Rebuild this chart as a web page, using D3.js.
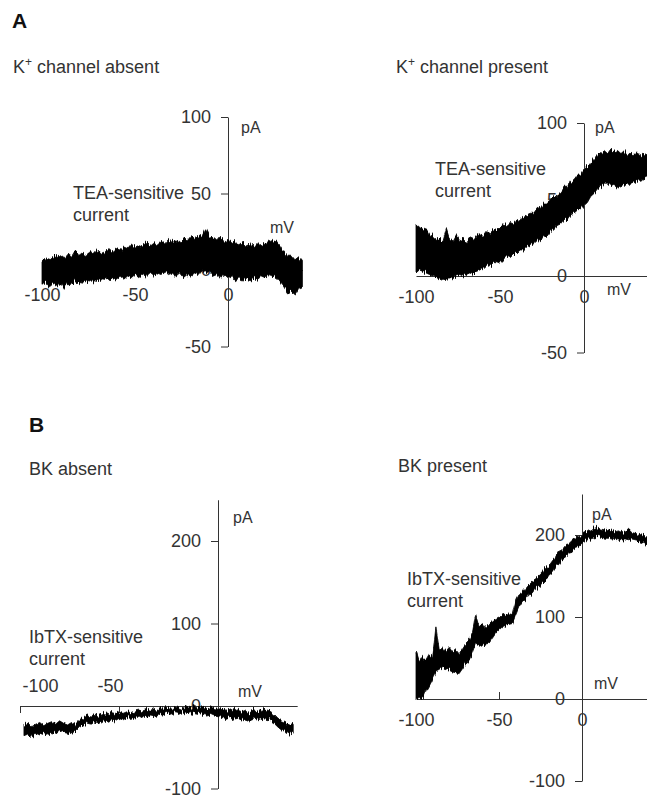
<!DOCTYPE html>
<html>
<head>
<meta charset="utf-8">
<script src="https://cdn.jsdelivr.net/npm/d3@7"></script>
<style>
  body { margin: 0; background: #fff; }
  text { font-family: "Liberation Sans", Arial, sans-serif; }
</style>
</head>
<body>
<div id="chart"></div>
<script>
// voltage samples (mV), shared by all four traces
const mV = [
  -100, -98, -96, -94, -92, -90, -88, -86, -84, -82,
  -80, -78, -76, -74, -72, -70, -68, -66, -64, -62,
  -60, -58, -56, -54, -52, -50, -48, -46, -44, -42,
  -40, -38, -36, -34, -32, -30, -28, -26, -24, -22,
  -20, -18, -16, -14, -12, -10, -8, -6, -4, -2,
  0, 2, 4, 6, 8, 10, 12, 14, 16, 18,
  20, 22, 24, 26, 28, 30, 32, 34, 36, 38,
  40
]

// A, K+ channel absent: upper / lower edge of the noisy TEA-sensitive current (pA)
const kAbsentHigh = [
  6, 8, 7, 9, 8, 10, 8, 11, 9, 13,
  9, 11, 10, 12, 11, 13, 11, 12, 14, 12,
  14, 13, 15, 14, 17, 15, 16, 15, 18, 16,
  18, 17, 19, 17, 20, 18, 19, 18, 21, 19,
  22, 20, 23, 22, 27, 22, 21, 19, 22, 19,
  20, 17, 19, 16, 18, 15, 17, 15, 18, 16,
  17, 19, 20, 19, 16, 12, 9, 9, 6, 8,
  5
]
const kAbsentLow = [
  -10, -8, -11, -9, -10, -8, -12, -8, -10, -7,
  -9, -7, -8, -6, -8, -6, -7, -5, -7, -5,
  -6, -4, -6, -4, -5, -3, -5, -3, -4, -2,
  -4, -2, -3, -1, -3, -2, -4, -2, -5, -3,
  -4, -2, -3, 0, -2, -1, -4, -3, -5, -3,
  -5, -4, -7, -5, -8, -6, -7, -5, -6, -4,
  -5, -3, -4, -5, -8, -11, -15, -14, -16, -12,
  -11
]

// A, K+ channel present
const kPresentHigh = [
  34, 32, 30, 31, 27, 26, 24, 25, 23, 31,
  24, 23, 27, 23, 24, 22, 25, 24, 26, 27,
  26, 29, 28, 30, 31, 31, 34, 33, 35, 34,
  37, 36, 39, 40, 41, 41, 44, 45, 47, 47,
  50, 52, 52, 55, 58, 58, 62, 63, 66, 66,
  70, 71, 74, 77, 79, 80, 82, 80, 83, 81,
  82, 80, 82, 79, 81, 79, 81, 78, 80, 79,
  79
]
const kPresentLow = [
  2, 4, 3, 2, 1, 0, -1, -2, -3, -2,
  -2, -1, 0, 1, 0, 1, 2, 1, 3, 4,
  5, 7, 6, 8, 10, 9, 11, 13, 12, 14,
  15, 17, 17, 19, 20, 21, 23, 23, 26, 26,
  29, 30, 33, 34, 37, 37, 40, 41, 43, 44,
  46, 48, 52, 54, 57, 58, 60, 60, 60, 59,
  58, 59, 60, 60, 60, 61, 62, 62, 64, 65,
  65
]

// B, BK absent: IbTX-sensitive current
const bkAbsentHigh = [
  null, -23, -21, -25, -22, -20, -24, -21, -19, -22,
  -18, -21, -23, -20, -22, -17, -13, -11, -12, -10,
  -11, -9, -10, -8, -9, -7, -9, -7, -8, -6,
  -5, -6, -4, -5, -3, -4, -2, -4, -2, -3,
  -1, -3, 0, -2, 1, -2, -1, -3, -1, -3,
  -4, -3, -5, -4, -2, -5, -7, -5, -8, -6,
  -7, -5, -4, -6, -9, -14, -18, -20, -23, -21,
  null
]
const bkAbsentLow = [
  null, -36, -34, -38, -33, -35, -32, -35, -31, -33,
  -29, -32, -33, -30, -31, -26, -23, -21, -22, -19,
  -21, -18, -19, -17, -18, -15, -17, -14, -15, -13,
  -14, -12, -13, -11, -12, -10, -11, -9, -10, -8,
  -9, -7, -9, -7, -8, -9, -10, -11, -10, -12,
  -13, -14, -15, -13, -16, -15, -17, -16, -18, -16,
  -17, -15, -16, -17, -20, -25, -29, -31, -34, -33,
  null
]

// B, BK present
const bkPresentHigh = [
  58, 45, 52, 48, 55, 50, 88, 60, 62, 58,
  63, 57, 60, 55, 62, 68, 72, 80, 102, 88,
  92, 86, 90, 95, 98, 100, 104, 101, 104, 103,
  120, 128, 130, 134, 139, 143, 145, 150, 154, 159,
  162, 168, 173, 180, 182, 187, 188, 192, 195, 198,
  200, 202, 205, 207, 210, 208, 207, 206, 205, 206,
  204, 205, 203, 202, 207, 203, 202, 201, 200, 199,
  199
]
const bkPresentLow = [
  0, 2, 0, 10, 17, 25, 33, 35, 38, 37,
  35, 33, 32, 31, 37, 44, 47, 57, 68, 66,
  64, 67, 68, 74, 80, 84, 88, 90, 91, 92,
  102, 112, 119, 121, 127, 128, 134, 136, 142, 144,
  151, 154, 161, 164, 171, 173, 179, 180, 185, 186,
  190, 192, 195, 197, 198, 198, 197, 196, 196, 195,
  196, 195, 194, 194, 193, 194, 193, 192, 191, 189,
  190
]

// tick labels
const xTicksFull = [-100, -50, 0]
const xTicksBkAbsent = [-100, -50]
const yTicksK = [-50, 0, 50, 100]
const yTicksBk = [-100, 0, 100, 200]

const width = 647
const height = 799
const fontFamily = '"Liberation Sans", Arial, sans-serif'
const ink = '#333'

const svg = d3.select('#chart').append('svg')
    .attr('width', width)
    .attr('height', height)

// roughen the trace edges so the envelopes read as a noisy recording
const defs = svg.append('defs')
const rough = defs.append('filter').attr('id', 'rough')
    .attr('x', '-5%').attr('y', '-30%').attr('width', '110%').attr('height', '160%')
rough.append('feTurbulence')
    .attr('type', 'fractalNoise').attr('baseFrequency', '0.9 0.04')
    .attr('numOctaves', 2).attr('seed', 3).attr('result', 'noise')
rough.append('feColorMatrix').attr('in', 'noise').attr('type', 'matrix')
    .attr('values', '0 0 0 0 0.5  0 1 0 0 0  0 0 0 0 0  0 0 0 0 1')
    .attr('result', 'shift')
rough.append('feDisplacementMap').attr('in', 'SourceGraphic').attr('in2', 'shift')
    .attr('scale', 9).attr('xChannelSelector', 'R').attr('yChannelSelector', 'G')

function drawPanel(p) {
    const x = d3.scaleLinear().domain([-100, 40]).range([p.left, p.right])
    const y = d3.scaleLinear().domain(p.yDomain).range([p.bottom, p.top])
    const g = svg.append('g')

    // y axis, ticks to the left
    const yAxis = g.append('g')
        .attr('transform', `translate(${x(0)},0)`)
        .call(d3.axisLeft(y).tickValues(p.yTicks).tickFormat(d => String(d))
            .tickSize(7).tickPadding(10).tickSizeOuter(0))
    yAxis.attr('font-size', 18).attr('font-family', fontFamily).attr('color', ink)

    // x axis through 0 pA
    const xAxisGen = (p.xLabelsAbove ? d3.axisTop(x) : d3.axisBottom(x))
        .tickValues(p.xTicks)
        .tickFormat(d => String(d))
        .tickSize(p.xTickSize)
        .tickPadding(p.xPad)
        .tickSizeOuter(0)
    const xAxis = g.append('g')
        .attr('transform', `translate(0,${y(0)})`)
        .call(xAxisGen)
    xAxis.attr('font-size', 18).attr('font-family', fontFamily).attr('color', ink)
    if (p.xLabelShift) {
        xAxis.selectAll('.tick text').attr('dx', (d, i) => p.xLabelShift[i])
    }

    // noisy trace drawn as its envelope
    const rows = mV.map((v, i) => ({ v, hi: p.high[i], lo: p.low[i] }))
    const area = d3.area()
        .defined(d => d.hi != null && d.lo != null)
        .x(d => x(d.v))
        .y0(d => y(d.lo))
        .y1(d => y(d.hi))
    g.append('path')
        .datum(rows)
        .attr('d', area)
        .attr('fill', '#000')
        .attr('stroke', '#000')
        .attr('stroke-width', 0.8)
        .attr('filter', 'url(#rough)')

    // labels
    const title = g.append('text')
        .attr('x', p.titleX).attr('y', p.titleY)
        .attr('font-size', 18).attr('fill', ink)
    if (p.kPlus) {
        title.append('tspan').text('K')
        title.append('tspan').text('+').attr('font-size', 12).attr('dy', -7)
        title.append('tspan').text(' channel ' + p.title).attr('dy', 7)
    } else {
        title.text(p.title)
    }

    g.append('text').attr('x', p.labelX).attr('y', p.labelY)
        .attr('font-size', 18).attr('fill', ink).text(p.label)
    g.append('text').attr('x', p.labelX).attr('y', p.labelY + 22)
        .attr('font-size', 18).attr('fill', ink).text('current')

    g.append('text').attr('x', p.pAX).attr('y', p.pAY)
        .attr('font-size', 16).attr('fill', ink).text('pA')
    g.append('text').attr('x', p.mVX).attr('y', p.mVY)
        .attr('font-size', 16).attr('fill', ink).text('mV')
}

// panel letters
svg.append('text').attr('x', 12).attr('y', 28)
    .attr('font-size', 21).attr('font-weight', 'bold').attr('fill', '#111').text('A')
svg.append('text').attr('x', 29).attr('y', 432)
    .attr('font-size', 21).attr('font-weight', 'bold').attr('fill', '#111').text('B')

drawPanel({
    left: 42, right: 302.4, top: 117, bottom: 346.5, yDomain: [-50, 100],
    yTicks: yTicksK, xTicks: xTicksFull, xTickSize: 0, xPad: 18,
    high: kAbsentHigh, low: kAbsentLow,
    kPlus: true, title: 'absent', titleX: 13, titleY: 73,
    label: 'TEA-sensitive', labelX: 73, labelY: 199,
    pAX: 241, pAY: 133, mVX: 270, mVY: 233
})

drawPanel({
    left: 416, right: 651.2, top: 123, bottom: 352.5, yDomain: [-50, 100],
    yTicks: yTicksK, xTicks: xTicksFull, xTickSize: 0, xPad: 14,
    high: kPresentHigh, low: kPresentLow,
    kPlus: true, title: 'present', titleX: 396, titleY: 73,
    label: 'TEA-sensitive', labelX: 435, labelY: 175,
    pAX: 595, pAY: 133, mVX: 607, mVY: 295
})

drawPanel({
    left: 20, right: 297.2, top: 499.75, bottom: 788.5, yDomain: [-100, 250],
    yTicks: yTicksBk, xTicks: xTicksBkAbsent, xTickSize: -7, xPad: 14,
    xLabelsAbove: true, xLabelShift: [20, -9],
    high: bkAbsentHigh, low: bkAbsentLow,
    title: 'BK absent', titleX: 29, titleY: 475,
    label: 'IbTX-sensitive', labelX: 29, labelY: 643,
    pAX: 233, pAY: 523, mVX: 238, mVY: 697
})

drawPanel({
    left: 416, right: 648.4, top: 494, bottom: 781, yDomain: [-100, 250],
    yTicks: yTicksBk, xTicks: xTicksFull, xTickSize: -7, xPad: 14,
    high: bkPresentHigh, low: bkPresentLow,
    title: 'BK present', titleX: 398, titleY: 472,
    label: 'IbTX-sensitive', labelX: 407, labelY: 585,
    pAX: 592, pAY: 520, mVX: 594, mVY: 689
})
</script>
</body>
</html>
